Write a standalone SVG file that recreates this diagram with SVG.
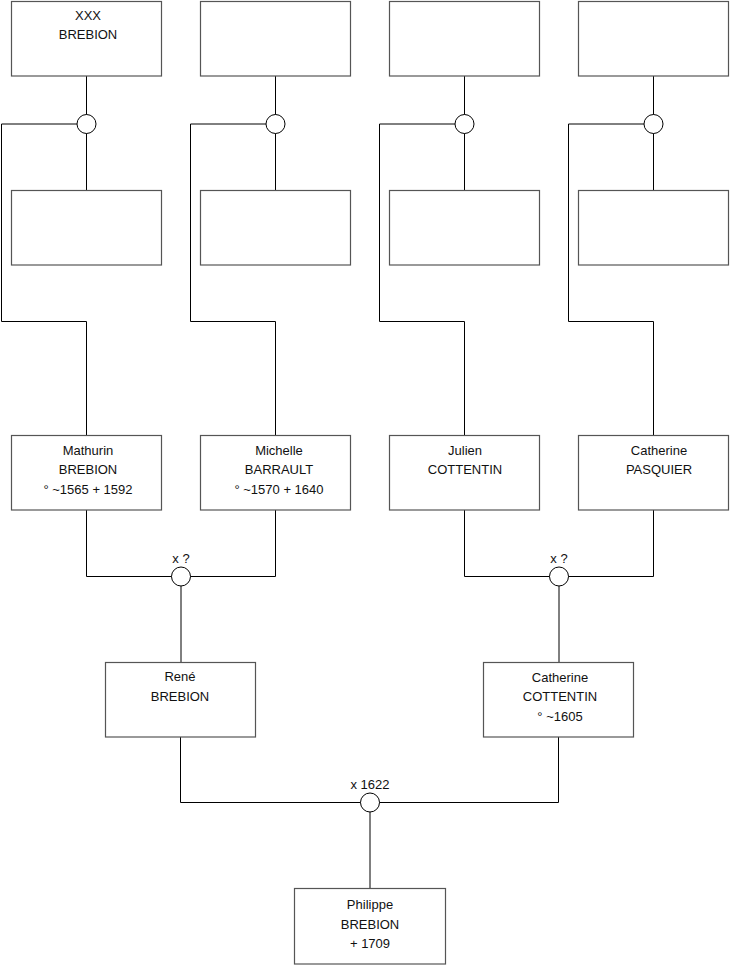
<svg xmlns="http://www.w3.org/2000/svg" width="740" height="975" viewBox="0 0 740 975">
<style>
.box{fill:#fff;stroke:#555;stroke-width:1.2}
.ln{fill:none;stroke:#000;stroke-width:1}
.ring{fill:#fff;stroke:#000;stroke-width:1}
text{font-family:"Liberation Sans",Arial,sans-serif;font-size:13px;fill:#111;text-anchor:middle}
</style>
<rect width="740" height="975" fill="#fff"/>
<g id="connectors">
<path class="ln" d="M86.5 76V124M86.5 124V190M77 124H1.5V321.5H86.5V435"/>
<path class="ln" d="M275.5 76V124M275.5 124V190M266 124H190.5V321.5H275.5V435"/>
<path class="ln" d="M464.5 76V124M464.5 124V190M455 124H379.5V321.5H464.5V435"/>
<path class="ln" d="M653.5 76V124M653.5 124V190M644 124H568.5V321.5H653.5V435"/>
<path class="ln" d="M86.5 510V576.5H275.5V510M181 576.5V662"/>
<path class="ln" d="M464.5 510V576.5H653.5V510M559 576.5V662"/>
<path class="ln" d="M180.5 737V802.5H558.5V737M370 802.5V888"/>
</g>
<g id="u1"><circle class="ring" cx="86.5" cy="124" r="9.5"/></g>
<g id="u2"><circle class="ring" cx="275.5" cy="124" r="9.5"/></g>
<g id="u3"><circle class="ring" cx="464.5" cy="124" r="9.5"/></g>
<g id="u4"><circle class="ring" cx="653.5" cy="124" r="9.5"/></g>
<g id="u5"><circle class="ring" cx="181" cy="576.5" r="9.5"/><text x="181" y="563">x ?</text></g>
<g id="u6"><circle class="ring" cx="559" cy="576.5" r="9.5"/><text x="559" y="563">x ?</text></g>
<g id="u7"><circle class="ring" cx="370" cy="802.5" r="9.5"/><text x="370" y="789">x 1622</text></g>
<g id="p1"><rect class="box" x="11.5" y="1.5" width="150" height="74.5"/><text x="88" y="20">XXX</text><text x="88" y="39">BREBION</text></g>
<g id="p2"><rect class="box" x="200.5" y="1.5" width="150" height="74.5"/></g>
<g id="p3"><rect class="box" x="389.5" y="1.5" width="150" height="74.5"/></g>
<g id="p4"><rect class="box" x="578.5" y="1.5" width="150" height="74.5"/></g>
<g id="p5"><rect class="box" x="11.5" y="190.5" width="150" height="74.5"/></g>
<g id="p6"><rect class="box" x="200.5" y="190.5" width="150" height="74.5"/></g>
<g id="p7"><rect class="box" x="389.5" y="190.5" width="150" height="74.5"/></g>
<g id="p8"><rect class="box" x="578.5" y="190.5" width="150" height="74.5"/></g>
<g id="p9"><rect class="box" x="11.5" y="435.5" width="150" height="74.5"/><text x="88" y="455">Mathurin</text><text x="88" y="474">BREBION</text><text x="88" y="494">° ~1565 + 1592</text></g>
<g id="p10"><rect class="box" x="200.5" y="435.5" width="150" height="74.5"/><text x="279" y="455">Michelle</text><text x="279" y="474">BARRAULT</text><text x="279" y="494">° ~1570 + 1640</text></g>
<g id="p11"><rect class="box" x="389.5" y="435.5" width="150" height="74.5"/><text x="465" y="455">Julien</text><text x="465" y="474">COTTENTIN</text></g>
<g id="p12"><rect class="box" x="578.5" y="435.5" width="150" height="74.5"/><text x="659" y="455">Catherine</text><text x="659" y="474">PASQUIER</text></g>
<g id="p13"><rect class="box" x="105.5" y="662.5" width="150" height="74.5"/><text x="180" y="681">René</text><text x="180" y="701">BREBION</text></g>
<g id="p14"><rect class="box" x="483.5" y="662.5" width="150" height="74.5"/><text x="560" y="682">Catherine</text><text x="560" y="701">COTTENTIN</text><text x="560" y="721">° ~1605</text></g>
<g id="p15"><rect class="box" x="294.5" y="888.5" width="151" height="75.5"/><text x="370" y="909">Philippe</text><text x="370" y="929">BREBION</text><text x="370" y="948">+ 1709</text></g>
</svg>
